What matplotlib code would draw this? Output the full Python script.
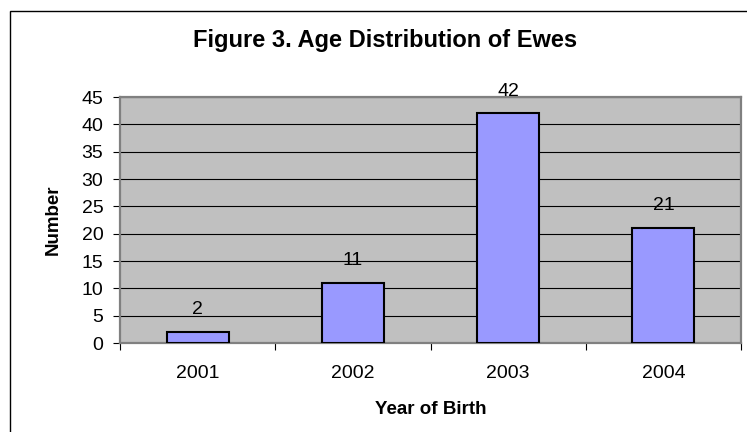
import matplotlib.pyplot as plt
import matplotlib.patches as patches
import numpy as np

plt.rcParams['font.family'] = ['Liberation Sans', 'DejaVu Sans']

years = ["2001", "2002", "2003", "2004"]
counts = [2, 11, 42, 21]
y_ticks = [0, 5, 10, 15, 20, 25, 30, 35, 40, 45]

W, H = 747, 432
fig = plt.figure(figsize=(W / 100, H / 100), dpi=100)
fig.patch.set_facecolor("white")

# outer chart frame (runs off the right and bottom edge)
fig.patches.append(patches.Rectangle((10 / W, -0.1), 1.2, 1 - 11 / H + 0.1,
                                     transform=fig.transFigure, fill=False,
                                     edgecolor="black", linewidth=1.0))

left, right, top, bottom = 120, 741, 97, 343
ax = fig.add_axes([left / W, 1 - bottom / H, (right - left) / W, (bottom - top) / H])
ax.set_facecolor("#C0C0C0")

x = np.arange(len(years))
ax.bar(x, counts, width=0.4, color="#9999FF", edgecolor="black", linewidth=1.5, zorder=3)

for xi, v in zip(x, counts):
    ax.annotate(str(v), (xi, v), xytext=(0, 16), textcoords="offset points",
                ha="center", va="center", fontsize=14, zorder=4)

ax.set_xlim(-0.5, len(years) - 0.5)
ax.set_ylim(0, 45)
ax.set_yticks(y_ticks)
ax.set_yticklabels([str(t) for t in y_ticks], fontsize=14)
ax.yaxis.grid(True, color="black", linewidth=0.8)
ax.set_axisbelow(True)

ax.set_xticks(np.arange(len(years) + 1) - 0.5)
ax.set_xticklabels([])
ax.set_xticks(x, minor=True)
ax.set_xticklabels(years, minor=True, fontsize=14)
ax.tick_params(axis="x", which="minor", length=0, pad=16)
ax.tick_params(axis="x", which="major", length=5, color="black", width=0.8)
ax.tick_params(axis="y", length=5, color="black", width=0.8, pad=7)

for s in ax.spines.values():
    s.set_color("#808080")
    s.set_linewidth(1.6)

ax.set_ylabel("Number", fontsize=13.5, fontweight="bold", va="center")
ax.yaxis.set_label_coords((53 - left) / (right - left), 0.5)
ax.set_xlabel("Year of Birth", fontsize=13.5, fontweight="bold", va="center")
ax.xaxis.set_label_coords(0.5, (bottom - 410) / (bottom - top))

fig.text(385 / W, 1 - 40 / H, "Figure 3. Age Distribution of Ewes",
         ha="center", va="center", fontsize=17, fontweight="bold")

fig.savefig("out.png", dpi=100)
